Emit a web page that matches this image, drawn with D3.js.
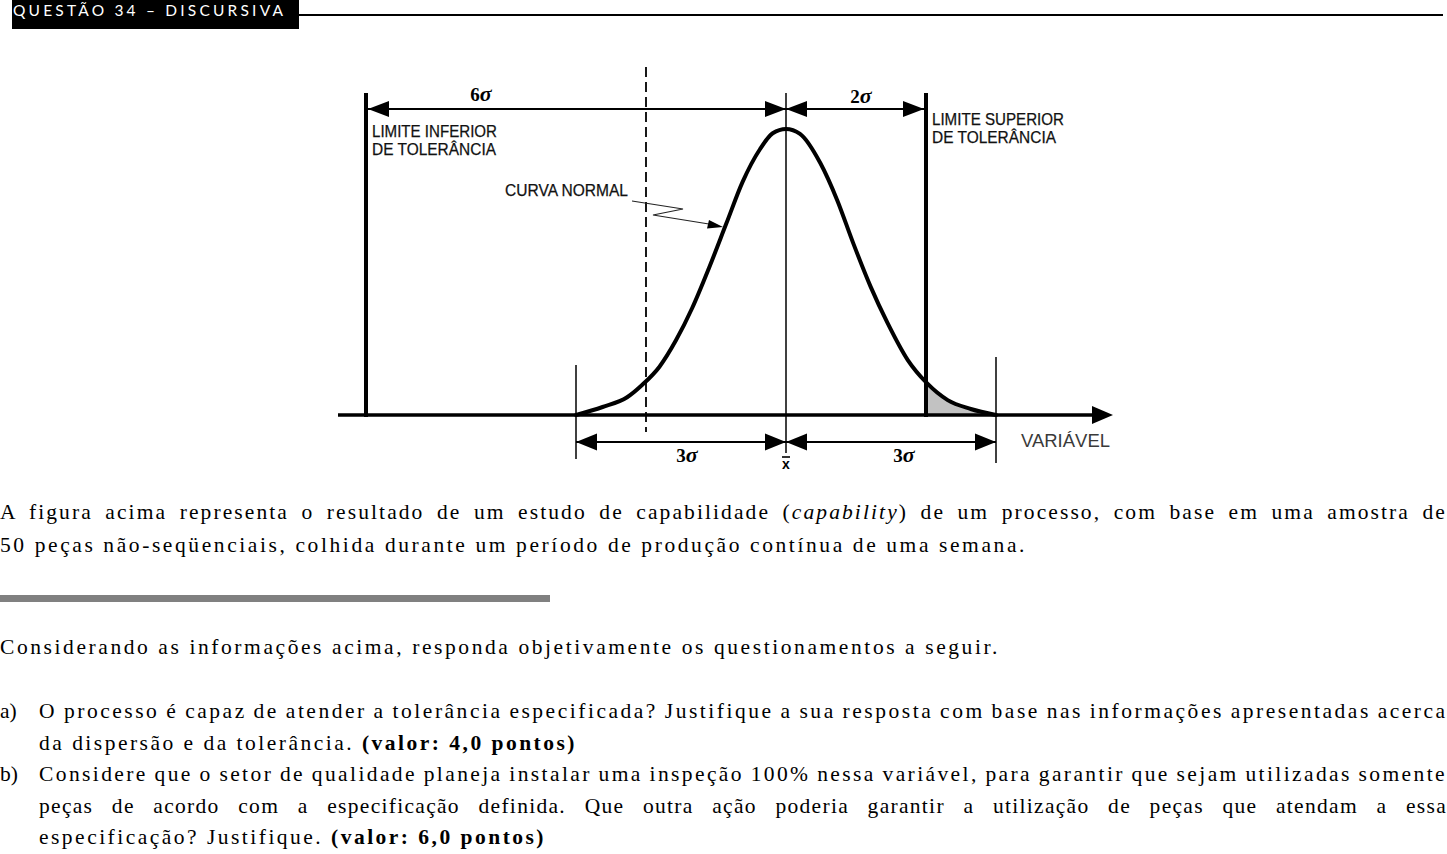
<!DOCTYPE html>
<html>
<head>
<meta charset="utf-8">
<script src="https://cdn.jsdelivr.net/npm/d3@7"></script>
<style>
  html, body { margin: 0; padding: 0; background: #fff; }
  svg { display: block; }
</style>
</head>
<body>
<svg id="chart" width="1447" height="854"></svg>
<script>
// ---------------- DATA ----------------
// curve: position in sigma units and relative height (peak = 1)
const curveSigma  = [-3, -2.62, -2.27, -2.06, -1.81, -1.57, -1.34, -1.10, -0.85, -0.62, -0.37, -0.19, 0, 0.20, 0.49, 0.73, 0.96, 1.21, 1.45, 1.74, 2.01, 2.31, 2.64, 3.0];
const curveHeight = [0, 0.028, 0.062, 0.104, 0.168, 0.262, 0.374, 0.514, 0.671, 0.815, 0.930, 0.985, 1, 0.983, 0.881, 0.752, 0.601, 0.448, 0.322, 0.192, 0.112, 0.052, 0.021, 0];

const limitSigma  = [-6, 2];
const limitLabels = [["LIMITE INFERIOR", "DE TOLERÂNCIA"], ["LIMITE SUPERIOR", "DE TOLERÂNCIA"]];

const topSpanFrom = [-6, 0];
const topSpanTo   = [0, 2];
const topSpanText = ["6", "2"];

const bottomSpanFrom = [-3, 0];
const bottomSpanTo   = [0, 3];
const bottomSpanText = ["3", "3"];

const dashedSigma = -2;
const naturalLimits = [-3, 3];

const headerTitle = "QUESTÃO 34 – DISCURSIVA";

// ---------------- LAYOUT ----------------
const svg = d3.select("#chart");
const x = d3.scaleLinear().domain([-3, 3]).range([576, 996]);
const y = d3.scaleLinear().domain([0, 1]).range([415, 129]);
const data = curveSigma.map((s, i) => ({ s, h: curveHeight[i] }));

function arrowHead(g, tipX, tipY, dir, len, half, fill) {
  const bx = tipX - dir * len;
  g.append("path")
    .attr("d", `M${tipX},${tipY} L${bx},${tipY - half} L${bx},${tipY + half} Z`)
    .attr("fill", fill || "#000");
}

// ---------- header ----------
svg.append("rect").attr("x", 12).attr("y", 0).attr("width", 287).attr("height", 29).attr("fill", "#000");
svg.append("line").attr("x1", 299).attr("x2", 1443).attr("y1", 15).attr("y2", 15)
  .attr("stroke", "#000").attr("stroke-width", 2);
svg.append("text").attr("x", 13).attr("y", 15.5)
  .attr("font-family", "Lato, 'Open Sans', sans-serif").attr("font-size", 15.5)
  .attr("fill", "#fff").attr("textLength", 270).attr("lengthAdjust", "spacing")
  .text(headerTitle);

// ---------- figure ----------
const fig = svg.append("g");

const clip = svg.append("defs").append("clipPath").attr("id", "tailClip");
clip.append("rect").attr("x", x(limitSigma[1])).attr("y", 0)
  .attr("width", x(naturalLimits[1]) - x(limitSigma[1])).attr("height", 415);
fig.append("path").datum(data)
  .attr("clip-path", "url(#tailClip)")
  .attr("fill", "#c2c2c2")
  .attr("d", d3.area().x(d => x(d.s)).y0(y(0)).y1(d => y(d.h)).curve(d3.curveMonotoneX));

fig.append("line").attr("x1", x(dashedSigma)).attr("x2", x(dashedSigma))
  .attr("y1", 67).attr("y2", 432)
  .attr("stroke", "#000").attr("stroke-width", 1.8).attr("stroke-dasharray", "10,5");

fig.append("line").attr("x1", x(0)).attr("x2", x(0)).attr("y1", 93).attr("y2", 453)
  .attr("stroke", "#000").attr("stroke-width", 1.5);

fig.append("line").attr("x1", x(naturalLimits[0])).attr("x2", x(naturalLimits[0]))
  .attr("y1", 365).attr("y2", 459).attr("stroke", "#000").attr("stroke-width", 1.5);
fig.append("line").attr("x1", x(naturalLimits[1])).attr("x2", x(naturalLimits[1]))
  .attr("y1", 357).attr("y2", 463).attr("stroke", "#000").attr("stroke-width", 1.5);

fig.append("line").attr("x1", 338).attr("x2", 1096).attr("y1", 415).attr("y2", 415)
  .attr("stroke", "#000").attr("stroke-width", 3.5);
arrowHead(fig, 1113, 415, 1, 21, 9);
fig.append("text").attr("x", 1021).attr("y", 447)
  .attr("font-family", "'Liberation Sans', Arial, sans-serif").attr("font-size", 18)
  .attr("fill", "#3a3a3a").attr("textLength", 89).attr("lengthAdjust", "spacingAndGlyphs")
  .text("VARIÁVEL");

limitSigma.forEach(s => {
  fig.append("line").attr("x1", x(s)).attr("x2", x(s)).attr("y1", 93).attr("y2", 417)
    .attr("stroke", "#000").attr("stroke-width", 4);
});

fig.append("path").datum(data)
  .attr("fill", "none").attr("stroke", "#000").attr("stroke-width", 4)
  .attr("stroke-linejoin", "round").attr("stroke-linecap", "round")
  .attr("d", d3.line().x(d => x(d.s)).y(d => y(d.h)).curve(d3.curveMonotoneX));

const labelFont = "'Liberation Sans', Arial, sans-serif";
const limitLabelPos = [{ dx: 6, y: [137, 155], w: [125, 124] }, { dx: 6, y: [125, 143], w: [132, 124] }];
limitSigma.forEach((s, i) => {
  limitLabels[i].forEach((t, j) => {
    fig.append("text").attr("x", x(s) + limitLabelPos[i].dx).attr("y", limitLabelPos[i].y[j])
      .attr("font-family", labelFont).attr("font-size", 16.5).attr("fill", "#111")
      .attr("stroke", "#111").attr("stroke-width", 0.25)
      .attr("textLength", limitLabelPos[i].w[j]).attr("lengthAdjust", "spacingAndGlyphs")
      .text(t);
  });
});

fig.append("text").attr("x", 505).attr("y", 196)
  .attr("font-family", labelFont).attr("font-size", 16.5).attr("fill", "#111")
  .attr("stroke", "#111").attr("stroke-width", 0.25)
  .attr("textLength", 123).attr("lengthAdjust", "spacingAndGlyphs")
  .text("CURVA NORMAL");
fig.append("path").attr("d", "M632,201 L683,209 L653,215 L712,224.5")
  .attr("fill", "none").attr("stroke", "#222").attr("stroke-width", 1.1);
fig.append("path").attr("d", "M723,227 L709,220 L707,228.5 Z").attr("fill", "#000");

const sigmaFontSerif = "'Liberation Serif', 'Times New Roman', serif";
const topY = 109;
topSpanFrom.forEach((a, i) => {
  const b = topSpanTo[i];
  const xa = x(a) + (i === 0 ? 2 : 0), xb = x(b) - (i === 1 ? 2 : 0);
  fig.append("line").attr("x1", xa).attr("x2", xb).attr("y1", topY).attr("y2", topY)
    .attr("stroke", "#000").attr("stroke-width", 2);
  arrowHead(fig, xa, topY, -1, 21, 8);
  arrowHead(fig, xb, topY, 1, 21, 8);
});
const topLabelX = [481, 861], topLabelY = [101, 103];
topSpanText.forEach((t, i) => {
  const tx = fig.append("text").attr("x", topLabelX[i]).attr("y", topLabelY[i])
    .attr("text-anchor", "middle").attr("font-family", sigmaFontSerif)
    .attr("font-size", 19).attr("font-weight", "bold");
  tx.append("tspan").text(t);
  tx.append("tspan").attr("font-style", "italic").attr("font-size", 22).text("σ");
});

const botY = 442;
bottomSpanFrom.forEach((a, i) => {
  const b = bottomSpanTo[i];
  const xa = x(a), xb = x(b);
  fig.append("line").attr("x1", xa).attr("x2", xb).attr("y1", botY).attr("y2", botY)
    .attr("stroke", "#000").attr("stroke-width", 2);
  arrowHead(fig, xa, botY, -1, 21, 8.5);
  arrowHead(fig, xb, botY, 1, 21, 8.5);
});
const botLabelX = [687, 904];
bottomSpanText.forEach((t, i) => {
  const tx = fig.append("text").attr("x", botLabelX[i]).attr("y", 462)
    .attr("text-anchor", "middle").attr("font-family", sigmaFontSerif)
    .attr("font-size", 19).attr("font-weight", "bold");
  tx.append("tspan").text(t);
  tx.append("tspan").attr("font-style", "italic").attr("font-size", 22).text("σ");
});

fig.append("text").attr("x", x(0)).attr("y", 469).attr("text-anchor", "middle")
  .attr("font-family", labelFont).attr("font-size", 14).attr("font-weight", "bold").text("x");
fig.append("line").attr("x1", x(0) - 4).attr("x2", x(0) + 4).attr("y1", 457).attr("y2", 457)
  .attr("stroke", "#000").attr("stroke-width", 1.6);

// ---------- body text ----------
const bodyFont = "'Liberation Serif', 'Times New Roman', serif";
const bodySize = 21.5;
const lines = [
  { y: 519, x0: 0, x1: 1447, mode: "ws", ls: 2.1,
    parts: [["A figura acima representa o resultado de um estudo de capabilidade (", ""], ["capability", "i"], [") de um processo, com base em uma amostra de", ""]] },
  { y: 552, x0: 0, x1: 1027, mode: "ls", ws: 0,
    parts: [["50 peças não-seqüenciais, colhida durante um período de produção contínua de uma semana.", ""]] },
  { y: 654, x0: 0, x1: 1000, mode: "ls", ws: 0,
    parts: [["Considerando as informações acima, responda objetivamente os questionamentos a seguir.", ""]] },
  { y: 718, x0: 39, x1: 1447, mode: "ls", ws: -1,
    parts: [["O processo é capaz de atender a tolerância especificada? Justifique a sua resposta com base nas informações apresentadas acerca", ""]] },
  { y: 750, x0: 39, x1: 577, mode: "ls", ws: 0,
    parts: [["da dispersão e da tolerância. ", ""], ["(valor: 4,0 pontos)", "b"]] },
  { y: 781, x0: 39, x1: 1447, mode: "ls", ws: -1,
    parts: [["Considere que o setor de qualidade planeja instalar uma inspeção 100% nessa variável, para garantir que sejam utilizadas somente", ""]] },
  { y: 813, x0: 39, x1: 1447, mode: "ws", ls: 1.3,
    parts: [["peças de acordo com a especificação definida. Que outra ação poderia garantir a utilização de peças que atendam a essa", ""]] },
  { y: 844, x0: 39, x1: 546, mode: "ls", ws: 0,
    parts: [["especificação? Justifique. ", ""], ["(valor: 6,0 pontos)", "b"]] }
];
const markers = [{ y: 718, t: "a)" }, { y: 781, t: "b)" }];

const bodyG = svg.append("g");
function measure(el) { return el.node().getBBox().width; }

lines.forEach(L => {
  const t = bodyG.append("text").attr("x", L.x0).attr("y", L.y)
    .attr("font-family", bodyFont).attr("font-size", bodySize).attr("fill", "#000")
    .style("white-space", "pre");
  L.parts.forEach(p => {
    const sp = t.append("tspan").text(p[0]);
    if (p[1] === "i") sp.attr("font-style", "italic");
    if (p[1] === "b") sp.attr("font-weight", "bold");
  });
  const target = L.x1 - L.x0;
  if (L.mode === "ws") {
    t.style("letter-spacing", L.ls + "px").style("word-spacing", "0px");
    const w0 = measure(t);
    t.style("word-spacing", "10px");
    const w1 = measure(t);
    const ws = (target - w0) / ((w1 - w0) / 10);
    t.style("word-spacing", ws + "px");
  } else {
    t.style("word-spacing", L.ws + "px").style("letter-spacing", "0px");
    const w0 = measure(t);
    t.style("letter-spacing", "1px");
    const w1 = measure(t);
    const ls = (target - w0) / (w1 - w0);
    t.style("letter-spacing", ls + "px");
  }
});
markers.forEach(m => {
  bodyG.append("text").attr("x", 0).attr("y", m.y)
    .attr("font-family", bodyFont).attr("font-size", bodySize).text(m.t);
});

svg.append("rect").attr("x", 0).attr("y", 595).attr("width", 550).attr("height", 7).attr("fill", "#808080");
</script>
</body>
</html>
